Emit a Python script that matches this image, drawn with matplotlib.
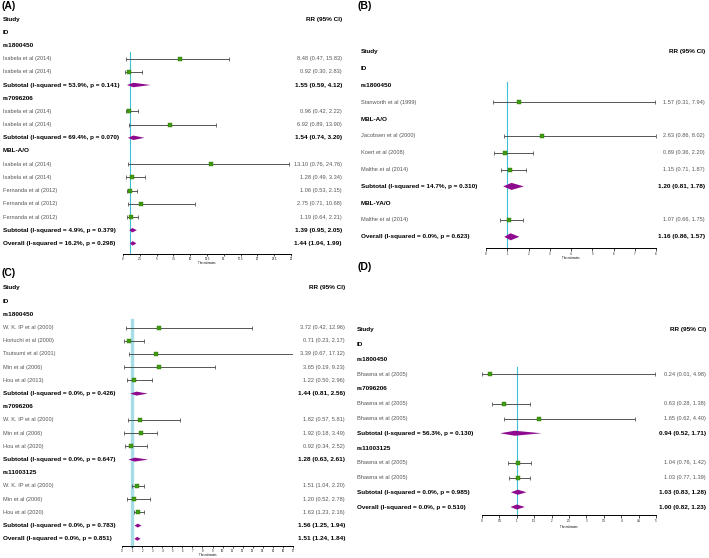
import numpy as np
import matplotlib
matplotlib.use("Agg")
import matplotlib.pyplot as plt
from matplotlib.transforms import blended_transform_factory
from matplotlib.patches import Polygon

# ---- data (None = group heading) ----
a_labels = ["rs1800450", "Isabela et al (2014)", "Isabela et al (2014)", "Subtotal (I-squared = 53.9%, p = 0.141)",
            "rs7096206", "Isabela et al (2014)", "Isabela et al (2014)", "Subtotal (I-squared = 69.4%, p = 0.070)",
            "MBL-A/O", "Isabela et al (2014)", "Isabela et al (2014)", "Fernanda et al (2012)", "Fernanda et al (2012)",
            "Fernanda et al (2012)", "Subtotal (I-squared = 4.9%, p = 0.379)", "Overall (I-squared = 16.2%, p = 0.298)"]
a_rr = [None, 8.48, 0.92, 1.55, None, 0.96, 6.92, 1.54, None, 13.10, 1.28, 1.06, 2.75, 1.19, 1.39, 1.44]
a_lo = [None, 0.47, 0.30, 0.59, None, 0.42, 0.89, 0.74, None, 0.76, 0.49, 0.53, 0.71, 0.64, 0.95, 1.04]
a_hi = [None, 15.83, 2.83, 4.12, None, 2.22, 13.90, 3.20, None, 24.76, 3.34, 2.15, 10.68, 2.21, 2.05, 1.99]

b_labels = ["rs1800450", "Stanworth et al (1999)", "MBL-A/O", "Jacobsen et al (2000)", "Koert et al (2008)",
            "Malthe et al (2014)", "Subtotal (I-squared = 14.7%, p = 0.310)", "MBL-YA/O", "Malthe et al (2014)",
            "Overall (I-squared = 0.0%, p = 0.623)"]
b_rr = [None, 1.57, None, 2.63, 0.89, 1.15, 1.20, None, 1.07, 1.16]
b_lo = [None, 0.31, None, 0.86, 0.36, 0.71, 0.81, None, 0.66, 0.86]
b_hi = [None, 7.94, None, 8.02, 2.20, 1.87, 1.78, None, 1.75, 1.57]

c_labels = ["rs1800450", "W. K. IP et al (2000)", "Horiuchi et al (2000)", "Tsutsumi et al (2001)", "Min et al (2006)",
            "Hou et al (2013)", "Subtotal (I-squared = 0.0%, p = 0.426)", "rs7096206", "W. K. IP et al (2000)",
            "Min et al (2006)", "Hou et al (2020)", "Subtotal (I-squared = 0.0%, p = 0.647)", "rs11003125",
            "W. K. IP et al (2000)", "Min et al (2006)", "Hou et al (2020)", "Subtotal (I-squared = 0.0%, p = 0.783)",
            "Overall (I-squared = 0.0%, p = 0.851)"]
c_rr = [None, 3.72, 0.71, 3.39, 3.65, 1.22, 1.44, None, 1.82, 1.92, 0.92, 1.28, None, 1.51, 1.20, 1.63, 1.56, 1.51]
c_lo = [None, 0.42, 0.23, 0.67, 0.19, 0.50, 0.81, None, 0.57, 0.18, 0.34, 0.63, None, 1.04, 0.52, 1.23, 1.25, 1.24]
c_hi = [None, 12.96, 2.17, 17.12, 9.23, 2.96, 2.56, None, 5.81, 3.49, 2.52, 2.61, None, 2.20, 2.78, 2.16, 1.94, 1.84]

d_labels = ["rs1800450", "Bhawna et al (2005)", "rs7096206", "Bhawna et al (2005)", "Bhawna et al (2005)",
            "Subtotal (I-squared = 56.3%, p = 0.130)", "rs11003125", "Bhawna et al (2005)", "Bhawna et al (2005)",
            "Subtotal (I-squared = 0.0%, p = 0.985)", "Overall (I-squared = 0.0%, p = 0.510)"]
d_rr = [None, 0.24, None, 0.63, 1.65, 0.94, None, 1.04, 1.03, 1.03, 1.00]
d_lo = [None, 0.01, None, 0.28, 0.62, 0.52, None, 0.76, 0.77, 0.83, 0.82]
d_hi = [None, 4.98, None, 1.38, 4.40, 1.71, None, 1.42, 1.39, 1.28, 1.23]

a_ticks = np.arange(0, 25.01, 2.5)
b_ticks = np.arange(0, 9)
c_ticks = np.arange(0, 18)
d_ticks = np.arange(0, 5.01, 0.5)

W, H = 709, 558
plt.rcParams["font.family"] = ["Liberation Sans", "DejaVu Sans"]

fig = plt.figure(figsize=(W / 100, H / 100), dpi=100)

GREEN = "#3f9a12"
PURPLE = "#8e0a8e"
GREY = "#555555"
BOLD_FS = 4.6
REG_FS = 4.1


def fx(px):
    return px / W


def panel(tag, tag_xy, labels, rr, lo, hi, ticks, xmax, lab_x, rr_right, x0, x1,
          top_y, step, axis_y, est_y, line_top, line_col, line_w, dh, tick_len):
    nb = (axis_y - top_y) / step
    ax = fig.add_axes([fx(x0), 1 - axis_y / H, fx(x1 - x0), (axis_y - top_y) / H])
    ax.set_xlim(0, xmax)
    ax.set_ylim(nb, 0)
    for s in ["top", "left", "right"]:
        ax.spines[s].set_visible(False)
    ax.spines["bottom"].set_linewidth(0.7)
    ax.set_yticks([])
    ax.set_xticks(ticks)
    ax.set_xticklabels([("%g" % t) for t in ticks], fontsize=2.0)
    ax.tick_params(axis="x", length=tick_len, width=0.5, pad=0.5)
    ax.patch.set_alpha(0)
    tr = blended_transform_factory(fig.transFigure, ax.transData)

    fig.text(fx(tag_xy[0]), 1 - tag_xy[1] / H, tag, fontsize=7.5, fontweight="bold",
             va="center", ha="left")
    ax.text(fx(lab_x), 0, "Study", transform=tr, fontsize=BOLD_FS, fontweight="bold", va="center")
    ax.text(fx(rr_right), 0, "RR (95% CI)", transform=tr, fontsize=BOLD_FS, fontweight="bold",
            va="center", ha="right")
    ax.text(fx(lab_x), 1, "ID", transform=tr, fontsize=BOLD_FS, fontweight="bold", va="center")

    ax.plot([1, 1], [(line_top - top_y) / step, nb], color=line_col, lw=line_w, zorder=1,
            clip_on=False)

    for i, lab in enumerate(labels):
        y = i + 2
        if rr[i] is None:
            ax.text(fx(lab_x), y, lab, transform=tr, fontsize=BOLD_FS, fontweight="bold", va="center")
            continue
        val = "%.2f (%.2f, %.2f)" % (rr[i], lo[i], hi[i])
        if lab.startswith("Subtotal") or lab.startswith("Overall"):
            ax.text(fx(lab_x), y, lab, transform=tr, fontsize=BOLD_FS, fontweight="bold", va="center")
            ax.text(fx(rr_right), y, val, transform=tr, fontsize=BOLD_FS, fontweight="bold",
                    va="center", ha="right")
            ax.add_patch(Polygon([[lo[i], y], [rr[i], y - dh], [hi[i], y], [rr[i], y + dh]],
                                 closed=True, color=PURPLE, lw=0, zorder=3))
        else:
            ax.text(fx(lab_x), y, lab, transform=tr, fontsize=REG_FS, color=GREY, va="center")
            ax.text(fx(rr_right), y, val, transform=tr, fontsize=REG_FS, color=GREY,
                    va="center", ha="right")
            ax.errorbar(rr[i], y, xerr=[[rr[i] - lo[i]], [hi[i] - rr[i]]], fmt="none",
                        ecolor="#3a3a3a", elinewidth=0.6, capsize=1.3, capthick=0.5, zorder=2)
            ax.plot(rr[i], y, marker="s", ms=3.2, color=GREEN, mec="#2f7a0a", mew=0.3, zorder=4)

    fig.text(fx((x0 + x1) / 2), 1 - est_y / H, "The estimates", fontsize=2.0, ha="center", va="center")


panel("(A)", (2, 6), a_labels, a_rr, a_lo, a_hi, a_ticks, 25, 3, 342, 123, 291,
      19, 13.2, 254, 263, 52, "#3cc0d4", 0.8, 0.17, 1.6)
panel("(B)", (358, 6), b_labels, b_rr, b_lo, b_hi, b_ticks, 8, 361, 705, 486, 656,
      52, 16.8, 248, 258, 82, "#3cc0d4", 0.8, 0.21, 2.2)
panel("(C)", (2, 273), c_labels, c_rr, c_lo, c_hi, c_ticks, 17, 3, 345, 122, 293,
      288, 13.2, 546, 555.5, 320, "#a6dde6", 2.4, 0.15, 1.6)
panel("(D)", (357, 267), d_labels, d_rr, d_lo, d_hi, d_ticks, 5, 357, 706, 482, 656,
      330, 14.75, 515, 527, 367, "#3cc0d4", 0.8, 0.17, 2.2)

fig.savefig("out.png", dpi=100)
